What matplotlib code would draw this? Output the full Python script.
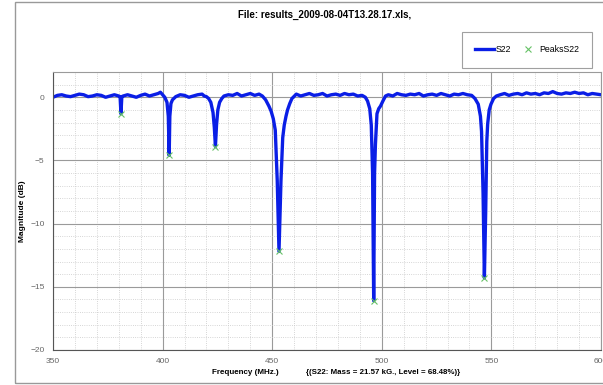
import matplotlib
matplotlib.use("Agg")
import matplotlib.pyplot as plt
from matplotlib.patches import Rectangle
from matplotlib.ticker import MultipleLocator

plt.rcParams["font.family"] = ["Liberation Sans", "DejaVu Sans"]

# S22 trace (MHz, dB)
freq = [350, 352, 354, 356, 358, 360, 362, 364, 366, 368, 370, 372, 374, 376, 378, 380,
        380.6, 381.0, 381.4, 382, 384, 386, 388, 390, 392, 394, 396, 398, 399, 400, 401,
        402, 402.6, 403.0, 403.3, 403.8, 404.5, 406, 408, 410, 412, 414, 416, 418, 419,
        420, 421, 422, 423, 423.6, 424.1, 424.6, 425.2, 426, 427, 428, 430, 432, 434, 436,
        438, 440, 442, 444, 445.5, 447, 448.5, 449.5, 450.5, 451.4, 452.3, 453.1, 454.0,
        454.8, 455.5, 456.3, 457, 458, 459, 461, 463, 465, 467, 469, 471, 473, 475, 477,
        479, 481, 483, 485, 487, 489, 491, 492.5, 493.5, 494.5, 495.2, 495.8, 496.3, 496.7,
        497.1, 497.8, 498.6, 499.4, 500.5, 501.7, 503, 505, 507, 509, 511, 513, 515, 517,
        519, 521, 523, 525, 527, 529, 531, 533, 535, 537, 539, 541, 542.5, 544, 545, 545.5,
        546.2, 546.8, 547.4, 547.9, 548.3, 549, 549.8, 551, 552.3, 554, 556, 558, 560, 562,
        564, 566, 568, 570, 572, 574, 576, 578, 580, 582, 584, 586, 588, 590, 592, 594,
        596, 598, 600]
mag = [0.0, 0.15, 0.2, 0.1, 0.05, 0.15, 0.25, 0.2, 0.05, 0.1, 0.2, 0.15, 0.0, 0.1, 0.2, 0.1,
       0.05, -1.3, 0.05, 0.1, 0.2, 0.1, 0.0, 0.15, 0.25, 0.1, 0.2, 0.3, 0.4, 0.2, 0.0,
       -0.4, -1.5, -4.6, -1.5, -0.5, -0.2, 0.05, 0.2, 0.15, 0.0, 0.1, 0.2, 0.25, 0.1,
       0.05, -0.1, -0.4, -1.2, -2.4, -3.9, -2.2, -1.0, -0.4, -0.1, 0.1, 0.2, 0.15, 0.3, 0.1,
       0.2, 0.3, 0.15, 0.25, 0.1, -0.2, -0.7, -1.1, -1.7, -2.6, -6.6, -12.2, -6.6,
       -3.2, -2.2, -1.5, -1.0, -0.5, -0.1, 0.25, 0.1, 0.2, 0.3, 0.15, 0.2, 0.3, 0.1, 0.2,
       0.25, 0.15, 0.3, 0.2, 0.25, 0.1, 0.15, 0.0, -0.3, -0.9, -2.2, -6.0, -16.1, -6.0,
       -3.7, -1.3, -0.9, -0.7, -0.3, 0.1, 0.2, 0.1, 0.3, 0.2, 0.15, 0.25, 0.2, 0.3,
       0.1, 0.2, 0.25, 0.15, 0.3, 0.2, 0.1, 0.25, 0.2, 0.3, 0.2, 0.15, -0.1, -0.55, -1.5, -2.7,
       -7.6, -14.3, -9.0, -3.5, -2.1, -1.0, -0.55, -0.1, 0.1, 0.2, 0.3, 0.15, 0.25, 0.3,
       0.2, 0.35, 0.25, 0.3, 0.2, 0.35, 0.3, 0.45, 0.3, 0.25, 0.35, 0.3, 0.4, 0.3, 0.35, 0.2,
       0.3, 0.25, 0.2]

# detected peaks
peak_freq = [381.0, 403.0, 424.1, 453.1, 496.3, 546.8]
peak_mag = [-1.35, -4.6, -3.9, -12.2, -16.1, -14.3]

title = "File: results_2009-08-04T13.28.17.xls,"
note = "{(S22: Mass = 21.57 kG., Level = 68.48%)}"

fig = plt.figure(figsize=(6.03, 3.85), dpi=100)
ax = fig.add_axes([53 / 603, 35 / 385, 548 / 603, 278 / 385])

ax.plot(freq, mag, color="#0a1ee6", lw=2.4, label="S22", solid_joinstyle="round")
ax.plot(peak_freq, peak_mag, ls="none", marker="x", ms=4.5, mew=0.8,
        color="#66c266", label="PeaksS22")

ax.set_xlim(350, 600)
ax.set_ylim(-20, 2)
ax.xaxis.set_major_locator(MultipleLocator(50))
ax.xaxis.set_minor_locator(MultipleLocator(10))
ax.yaxis.set_major_locator(MultipleLocator(5))
ax.yaxis.set_minor_locator(MultipleLocator(1))
ax.grid(which="major", color="#9a9a9a", lw=0.8)
ax.grid(which="minor", color="#c8c8c8", lw=0.6, ls=":")
ax.set_axisbelow(True)
ax.tick_params(which="both", length=0, labelsize=6, labelcolor="#666666", pad=6)
for s in ax.spines.values():
    s.set_color("#9a9a9a")
ax.spines["left"].set_color("#555555")
ax.spines["bottom"].set_color("#555555")

ax.set_ylabel("Magnitude (dB)", fontsize=6, fontweight="bold", labelpad=3)
fig.text(245 / 603, 1 - 373 / 385, "Frequency (MHz.)", fontsize=5.8, fontweight="bold",
         ha="center", va="center")
fig.text(383 / 603, 1 - 373 / 385, note, fontsize=5.7, fontweight="bold",
         ha="center", va="center")
fig.text(325 / 603, 1 - 15 / 385, title, fontsize=7, fontweight="bold",
         ha="center", va="center")

leg = ax.legend(loc="center", bbox_to_anchor=(527 / 603, 1 - 50 / 385),
                bbox_transform=fig.transFigure, ncol=2, fontsize=6.3, frameon=True,
                fancybox=False, borderpad=1.5, handlelength=2.2, handletextpad=0.2,
                columnspacing=0.8)
leg.get_frame().set_edgecolor("#888888")
leg.get_frame().set_linewidth(0.8)

fig.patches.append(Rectangle((15 / 603, 2 / 385), 1.0, 381 / 385, transform=fig.transFigure,
                             fill=False, edgecolor="#999999", lw=1))

fig.savefig("out.png", dpi=100)
